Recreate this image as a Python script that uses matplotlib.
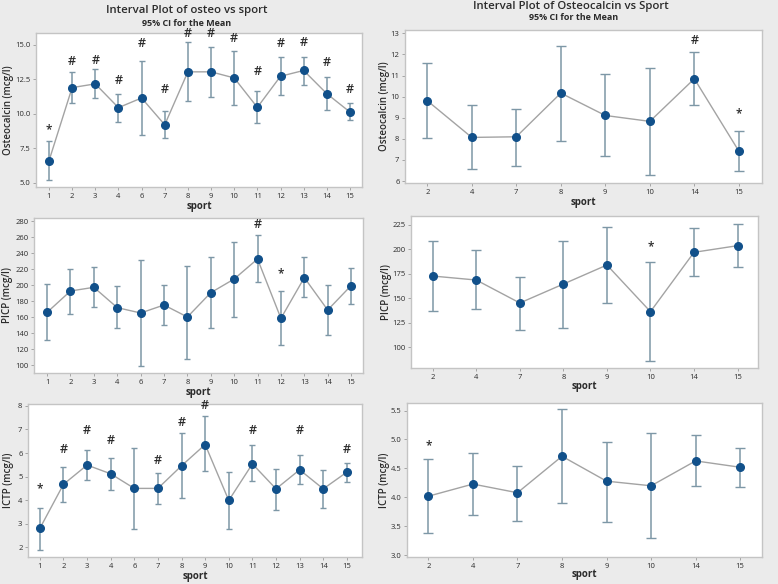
import matplotlib
matplotlib.use("Agg")
import matplotlib.pyplot as plt
from matplotlib.ticker import FormatStrFormatter

# ---------------- data ----------------
sport_all = [1, 2, 3, 4, 6, 7, 8, 9, 10, 11, 12, 13, 14, 15]
sport_sub = [2, 4, 7, 8, 9, 10, 14, 15]

osteo_l_mean = [6.60, 11.90, 12.17, 10.45, 11.15, 9.21, 13.04, 13.04, 12.60, 10.47, 12.72, 13.14, 11.46, 10.13]
osteo_l_lo = [5.19, 10.76, 11.15, 9.38, 8.49, 8.22, 10.96, 11.20, 10.67, 9.31, 11.37, 12.12, 10.25, 9.53]
osteo_l_hi = [8.03, 13.06, 13.21, 11.44, 13.86, 10.18, 15.17, 14.81, 14.52, 11.63, 14.08, 14.08, 12.70, 10.76]
osteo_l_marks = [(1, '*', 8.87), (2, '#', 13.77), (3, '#', 13.84), (4, '#', 12.41), (6, '#', 15.07),
                 (7, '#', 11.73), (8, '#', 15.80), (9, '#', 15.80), (10, '#', 15.48), (11, '#', 13.06),
                 (12, '#', 15.07), (13, '#', 15.19), (14, '#', 13.72), (15, '#', 11.73)]

osteo_r_mean = [9.81, 8.07, 8.10, 10.17, 9.11, 8.83, 10.85, 7.42]
osteo_r_lo = [8.02, 6.57, 6.73, 7.91, 7.19, 6.27, 9.60, 6.48]
osteo_r_hi = [11.61, 9.59, 9.43, 12.40, 11.09, 11.37, 12.13, 8.37]
osteo_r_marks = [(14, '#', 12.68), (15, '*', 9.2)]

picp_l_mean = [165.8, 192.5, 197.1, 171.7, 165.0, 175.0, 160.0, 190.4, 207.5, 232.5, 158.3, 209.2, 168.75, 199.2]
picp_l_lo = [131.7, 164.2, 172.5, 146.3, 98.3, 149.6, 107.9, 145.8, 160.4, 203.3, 124.6, 185.0, 137.9, 175.8]
picp_l_hi = [200.8, 220.4, 222.5, 198.3, 231.3, 200.0, 223.75, 235.4, 254.2, 262.5, 192.9, 234.6, 200.0, 221.7]
picp_l_marks = [(11, '#', 275.8), (12, '*', 213.8)]

picp_r_mean = [172.7, 168.6, 145.1, 164.5, 184.0, 136.2, 197.0, 203.8]
picp_r_lo = [136.5, 138.6, 117.8, 119.5, 145.4, 85.7, 172.7, 182.3]
picp_r_hi = [209.0, 199.0, 172.1, 209.0, 222.6, 187.1, 222.3, 226.0]
picp_r_marks = [(10, '*', 202.8)]

ictp_l_mean = [2.80, 4.67, 5.49, 5.12, 4.50, 4.50, 5.46, 6.36, 3.99, 5.54, 4.48, 5.29, 4.48, 5.19]
ictp_l_lo = [1.90, 3.93, 4.85, 4.44, 2.79, 3.85, 4.10, 5.22, 2.77, 4.81, 3.58, 4.68, 3.66, 4.79]
ictp_l_hi = [3.68, 5.40, 6.14, 5.77, 6.23, 5.16, 6.83, 7.55, 5.20, 6.32, 5.34, 5.92, 5.29, 5.57]
ictp_l_marks = [(1, '*', 4.47), (2, '#', 6.16), (3, '#', 6.94), (4, '#', 6.53), (7, '#', 5.67),
                (8, '#', 7.31), (9, '#', 8.0), (11, '#', 6.94), (13, '#', 6.94), (15, '#', 6.16)]

ictp_r_mean = [4.02, 4.23, 4.08, 4.71, 4.28, 4.20, 4.63, 4.52]
ictp_r_lo = [3.38, 3.69, 3.60, 3.91, 3.58, 3.30, 4.19, 4.18]
ictp_r_hi = [4.67, 4.77, 4.55, 5.52, 4.96, 5.11, 5.08, 4.86]
ictp_r_marks = [(2, '*', 4.89)]

# ---------------- figure ----------------
W, H = 778, 584
fig = plt.figure(figsize=(W / 100, H / 100), dpi=100, facecolor='#ebebeb')
plt.rcParams['font.family'] = ['Open Sans', 'DejaVu Sans']

TXT = '#2b2b2b'
FRAME = '#c4c4c4'
MARK = '#11508a'
ERR = '#7d97a6'
LINE = '#a3a3a3'


def px_axes(l, t, r, b):
    return fig.add_axes([l / W, 1 - b / H, (r - l) / W, (b - t) / H])


def ftext(x, y, s, **kw):
    fig.text(x / W, 1 - y / H, s, color=TXT, **kw)


def panel(box, cats, mean, lo, hi, marks, ylim, yticks, fmt, xlim, ylabel, ylab_x, xlab_y, cap):
    ax = px_axes(*box)
    ax.set_facecolor('white')
    pos = list(range(len(cats)))
    yerr = [[m - l for m, l in zip(mean, lo)], [h - m for m, h in zip(mean, hi)]]
    ax.plot(pos, mean, color=LINE, lw=1.0, zorder=2)
    ax.errorbar(pos, mean, yerr=yerr, fmt='none', ecolor=ERR, elinewidth=1.1,
                capsize=cap, capthick=1.0, zorder=3)
    ax.plot(pos, mean, 'o', color=MARK, ms=5.5, zorder=4, mec=MARK)
    for c, sym, yv in marks:
        i = cats.index(c)
        ax.text(i, yv, sym, ha='center', va='center', fontsize=9 if sym == '#' else 8.5,
                fontweight='semibold', color=TXT, zorder=5)
    ax.set_xlim(*xlim)
    ax.set_ylim(*ylim)
    ax.set_xticks(pos)
    ax.set_xticklabels([str(c) for c in cats])
    ax.set_yticks(yticks)
    ax.yaxis.set_major_formatter(FormatStrFormatter(fmt))
    ax.tick_params(axis='both', labelsize=5.5, labelcolor=TXT, length=2, width=0.6, pad=2,
                   color='#999999')
    for sp in ax.spines.values():
        sp.set_color(FRAME)
        sp.set_linewidth(1.0)
    bx = box
    ftext(ylab_x, (bx[1] + bx[3]) / 2, ylabel, rotation=90, ha='center', va='center',
          fontsize=7, fontweight='semibold')
    ftext((bx[0] + bx[2]) / 2, xlab_y, 'sport', ha='center', va='center', fontsize=7, fontweight='bold')
    return ax


panel((36, 33, 362, 187), sport_all, osteo_l_mean, osteo_l_lo, osteo_l_hi, osteo_l_marks,
      (4.71, 15.85), [5, 7.5, 10, 12.5, 15], '%.1f', (-0.56, 13.52), 'Osteocalcin (mcg/l)', 9, 206, 2.5)
panel((405, 30, 762, 183), sport_sub, osteo_r_mean, osteo_r_lo, osteo_r_hi, osteo_r_marks,
      (5.91, 13.16), list(range(6, 14)), '%d', (-0.5, 7.52), 'Osteocalcin (mcg/l)', 384, 203, 3.3)
panel((34, 218, 363, 373), sport_all, picp_l_mean, picp_l_lo, picp_l_hi, picp_l_marks,
      (90, 283.75), list(range(100, 281, 20)), '%d', (-0.56, 13.51), 'PICP (mcg/l)', 8, 392, 2.5)
panel((411, 216, 758, 368), sport_sub, picp_r_mean, picp_r_lo, picp_r_hi, picp_r_marks,
      (78.5, 234.2), [100, 125, 150, 175, 200, 225], '%d', (-0.5, 7.47), 'PICP (mcg/l)', 386, 387, 3.3)
panel((28, 404, 362, 557), sport_all, ictp_l_mean, ictp_l_lo, ictp_l_hi, ictp_l_marks,
      (1.59, 8.08), list(range(2, 9)), '%d', (-0.5, 13.64), 'ICTP (mcg/l)', 9, 576, 2.5)
panel((407, 403, 762, 557), sport_sub, ictp_r_mean, ictp_r_lo, ictp_r_hi, ictp_r_marks,
      (2.97, 5.63), [3.0, 3.5, 4.0, 4.5, 5.0, 5.5], '%.1f', (-0.48, 7.49), 'ICTP (mcg/l)', 385, 575, 3.3)

# titles
ftext(187, 11, 'Interval Plot of osteo vs sport', ha='center', va='center', fontsize=8.2, fontweight='semibold')
ftext(187, 23, '95% CI for the Mean', ha='center', va='center', fontsize=6.5, fontweight='bold')
ftext(571, 7, 'Interval Plot of Osteocalcin vs Sport', ha='center', va='center', fontsize=8.2, fontweight='semibold')
ftext(574, 18, '95% CI for the Mean', ha='center', va='center', fontsize=6.5, fontweight='bold')

fig.savefig('out.png', dpi=100, facecolor=fig.get_facecolor())
